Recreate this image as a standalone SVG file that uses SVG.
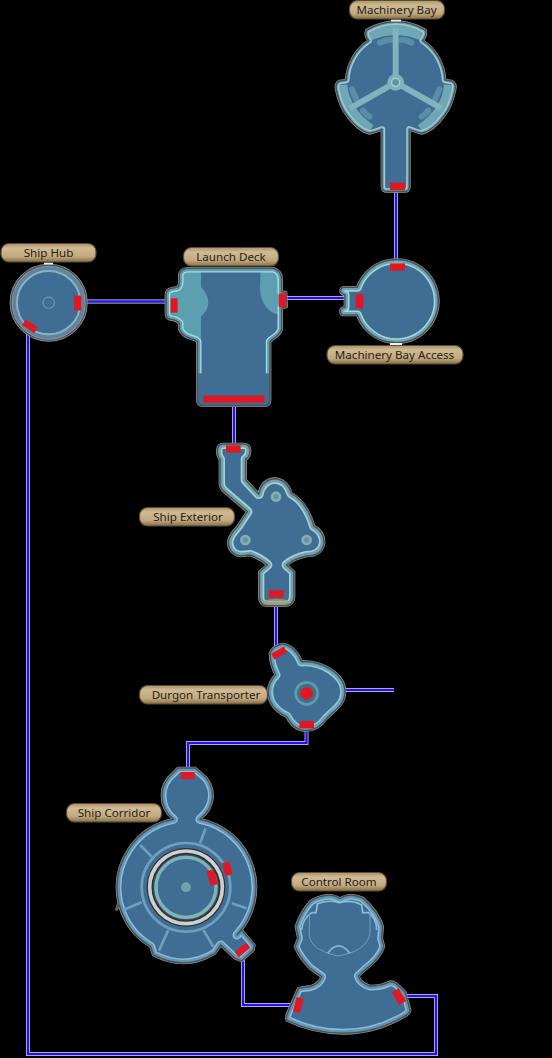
<svg xmlns="http://www.w3.org/2000/svg" width="552" height="1058" viewBox="0 0 552 1058">
<style>
text{font-family:"Noto Sans","Open Sans","Liberation Sans",sans-serif;font-size:11.6px;fill:#26221a;text-anchor:middle}
.pill{fill:url(#tan);stroke:#5d4c30;stroke-width:1.2}
.halo{fill:#3f6d94;stroke:#989c9e;stroke-width:8;stroke-linejoin:round}
.r2{fill:none;stroke:#a6d6dc;stroke-width:27;stroke-linejoin:round}
.r1{fill:none;stroke:#6aa6b8;stroke-width:18;stroke-linejoin:round}
.edge{fill:none;stroke:#4c5053;stroke-width:4.5;stroke-linejoin:round}
.blue .r2{stroke:#8ebdd6}.blue .r1{stroke:#5f95b8}
.thin .r2{stroke-width:19;stroke:#a3cbd2}.thin .r1{stroke-width:11}
.red{fill:#e01822}
.cw{fill:none;stroke:#d8d8f4;stroke-width:3.8}
.cb{fill:none;stroke:#2a0fe0;stroke-width:2.4}
.div{fill:none;stroke:#6ea0bd;stroke-width:8}
.tick{fill:#eeeeee}
</style>
<defs>
<linearGradient id="tan" x1="0" y1="0" x2="0" y2="1"><stop offset="0" stop-color="#a8946c"/><stop offset=".25" stop-color="#d0ba92"/><stop offset=".7" stop-color="#c2a97e"/><stop offset="1" stop-color="#857048"/></linearGradient>
<path id="pMB" d="M140 90Q228 40 316 90Q322 105 308 122A150 150 0 0 1 375 240L395 243Q410 250 405 270Q395 320 370 350Q340 392 305 400Q285 395 268 388L268 560Q268 574 254 574L200 574Q186 574 186 560L186 388Q169 395 149 400Q114 392 84 350Q59 320 49 270Q44 250 59 243L79 240A150 150 0 0 1 146 122Q132 105 140 90Z"/>
<clipPath id="cMB"><use href="#pMB"/></clipPath>
<path id="pLD" d="M560 85L820 85Q845 92 845 120L845 155L858 157L860 200L845 205L845 268Q840 285 815 300L810 305L810 480Q810 497 795 497L610 497Q592 497 592 480L592 305L585 300Q545 290 538 268L538 250Q530 240 510 238Q498 235 498 220L498 165Q498 148 515 145L530 142Q538 140 538 125L538 105Q540 88 560 85Z"/>
<clipPath id="cLD"><use href="#pLD"/></clipPath>
<path id="pAC" d="M112 112L72 112Q60 114 62 125Q65 133 75 135L75 172Q60 175 62 185Q62 195 75 195L112 195A125 125 0 1 0 112 112Z"/>
<clipPath id="cAC"><use href="#pAC"/></clipPath>
<path id="pSE" d="M262 62Q262 42 282 42L340 42Q360 42 360 62Q360 80 347 88L347 150L386 192Q395 150 432 146Q470 146 484 190Q530 215 552 288Q584 305 582 340Q575 378 530 378Q495 385 470 405L492 425L492 500Q490 527 465 527L415 527Q388 527 388 500L388 425L412 405Q390 385 360 375L330 378Q295 370 295 335Q298 315 322 290L352 245L282 185Q270 175 270 160L270 88Q262 80 262 62Z"/>
<clipPath id="cSE"><use href="#pSE"/></clipPath>
<path id="pDT" d="M420 130Q430 105 460 102Q495 108 515 155C570 150 645 190 645 245C645 285 610 305 590 325Q565 362 525 362Q490 360 470 320C430 300 415 275 415 245C415 225 425 205 437 195Q420 160 420 130Z"/>
<clipPath id="cDT"><use href="#pDT"/></clipPath>
<path id="pSC" d="M354 -66L405 -66L423 -51C445 -35 458 -10 458 20Q455 60 420 88A208 208 0 0 1 531 435L545 420L583 465L580 480L545 513L525 505L482 465L465 490Q375 545 280 495L272 470A208 208 0 0 1 178 345L170 358L176 338A209 209 0 0 1 340 88Q305 60 306 15C306 -10 320 -35 339 -51Z"/>
<clipPath id="cSC"><use href="#pSC"/></clipPath>
<path id="pCR" d="M240 95Q262 78 300 75Q318 78 330 85Q342 78 360 75Q385 78 400 85Q445 125 458 170L455 205L462 230Q450 265 410 295L385 318Q392 340 420 348Q455 348 480 335Q490 335 498 340L525 365L540 420Q540 428 530 435Q440 490 340 490Q250 490 172 452Q166 445 172 430L205 355Q225 350 240 350Q270 340 275 320L240 295Q210 265 195 230L205 205L198 170Q210 130 240 95Z"/>
<clipPath id="cCR"><use href="#pCR"/></clipPath>
<path id="l1" d="M396 188V264"/>
<path id="l2" d="M85 301.500H168"/>
<path id="l3" d="M284 298H346"/>
<path id="l4" d="M234 403V447"/>
<path id="l5" d="M276 602V650"/>
<path id="l6" d="M343 690H394"/>
<path id="l7" d="M306.500 728V743H188V771"/>
<path id="l8" d="M243 957V1005H293"/>
<path id="l9" d="M404 996H436V1054H28V333"/>
</defs>
<rect width="552" height="1058" fill="#000"/>
<g id="connectors">
<use href="#l1" class="cw"/><use href="#l1" class="cb"/>
<use href="#l2" class="cw"/><use href="#l2" class="cb"/>
<use href="#l3" class="cw"/><use href="#l3" class="cb"/>
<use href="#l4" class="cw"/><use href="#l4" class="cb"/>
<use href="#l5" class="cw"/><use href="#l5" class="cb"/>
<use href="#l6" class="cw"/><use href="#l6" class="cb"/>
<use href="#l7" class="cw"/><use href="#l7" class="cb"/>
<use href="#l8" class="cw"/><use href="#l8" class="cb"/>
<use href="#l9" class="cw"/><use href="#l9" class="cb"/>
</g>
<g id="machinery-bay">
<g transform="translate(320 0) scale(.33333)" class="thin">
<use href="#pMB" class="halo"/>
<g clip-path="url(#cMB)">
<g fill="none" stroke="#6fa7b6" stroke-width="40"><path d="M140 105Q227 65 315 105"/><path d="M392 255Q386 335 305 392"/><path d="M62 255Q68 335 149 392"/></g>
<g fill="none" stroke="#5a8ea8" stroke-width="18" stroke-linecap="round"><path d="M180 128Q200 118 212 120"/><path d="M245 120Q258 118 274 128"/><path d="M358 268Q352 285 345 298"/><path d="M325 332Q315 345 305 350"/><path d="M96 268Q102 285 109 298"/><path d="M129 332Q139 345 149 350"/></g>
<use href="#pMB" class="r2"/><use href="#pMB" class="r1"/>
</g>
<g fill="none" stroke="#7fb3bd" stroke-width="18"><path d="M227 247V85"/><path d="M227 247L365 325"/><path d="M227 247L90 325"/></g>
<circle cx="227" cy="247" r="25" fill="#7fb3bd"/><circle cx="227" cy="247" r="12" fill="#5f93a8" stroke="#a5d0d5" stroke-width="4"/>
<use href="#pMB" class="edge"/>
<rect class="red" x="210" y="548" width="45" height="22"/>
</g>
<rect class="tick" x="391" y="19.500" width="10" height="2"/>
<rect class="pill" x="349.500" y=".5" width="95" height="18.500" rx="8"/>
<text x="396.500" y="14">Machinery Bay</text>
</g>
<g id="machinery-bay-access">
<g transform="translate(320 250) scale(.33333)">
<use href="#pAC" class="halo"/>
<g clip-path="url(#cAC)"><use href="#pAC" class="r2"/><use href="#pAC" class="r1"/></g>
<use href="#pAC" class="edge"/>
<rect class="red" x="210" y="40" width="45" height="22"/>
<rect class="red" x="107" y="132" width="23" height="43"/>
</g>
<rect class="tick" x="390" y="343" width="12" height="2"/>
<rect class="pill" x="327" y="345.500" width="136" height="18.500" rx="8"/>
<text x="394.500" y="359">Machinery Bay Access</text>
</g>
<g id="ship-hub">
<g transform="translate(0 240) scale(.33333)">
<circle cx="146" cy="188" r="113" fill="#5f84a0" stroke="#9aa0a4" stroke-width="8"/>
<circle cx="146" cy="188" r="113" fill="none" stroke="#4e5256" stroke-width="4"/>
<circle cx="146" cy="188" r="95" fill="#3f6d94" stroke="#8eb0c6" stroke-width="6"/>
<circle cx="146" cy="188" r="17" fill="none" stroke="#7ea2b8" stroke-width="3"/>
<rect class="red" x="222" y="167" width="22" height="44"/>
<rect class="red" x="68" y="249" width="44" height="20" transform="rotate(35 90 259)"/>
</g>
<rect class="tick" x="44" y="262.500" width="9" height="2"/>
<rect class="pill" x="1" y="243.500" width="95" height="18.500" rx="8"/>
<text x="48.500" y="257">Ship Hub</text>
</g>
<g id="launch-deck">
<g transform="translate(0 240) scale(.33333)">
<use href="#pLD" class="halo"/>
<g clip-path="url(#cLD)">
<path d="M490 80L603 80L603 140Q625 165 625 185Q625 210 603 230L603 310L490 310Z" fill="#5c9fb0"/>
<path d="M782 90L860 90L860 225L826 222Q780 200 780 140Z" fill="#5c9fb0"/>
<use href="#pLD" style="fill:none;stroke:#a6dde2;stroke-width:25;stroke-linejoin:round"/>
<use href="#pLD" style="fill:none;stroke:#5c9fb0;stroke-width:17;stroke-linejoin:round"/>
<rect x="585" y="400" width="235" height="100" fill="#3f6d94"/>
</g>
<use href="#pLD" class="edge"/>
<rect class="red" x="512" y="175" width="21" height="43"/>
<rect class="red" x="837" y="160" width="21" height="42"/>
<rect class="red" x="610" y="467" width="183" height="21"/>
</g>
<rect class="pill" x="183.500" y="247.500" width="95" height="18.500" rx="8"/>
<text x="231" y="261">Launch Deck</text>
</g>
<g id="ship-exterior">
<g transform="translate(130 430) scale(.33333)">
<use href="#pSE" class="halo"/>
<g clip-path="url(#cSE)"><use href="#pSE" style="fill:none;stroke:#a9cfd0;stroke-width:30;stroke-linejoin:round"/><use href="#pSE" style="fill:none;stroke:#6ba2b0;stroke-width:20;stroke-linejoin:round"/>
<ellipse cx="440" cy="522" rx="45" ry="16" fill="#a89f70" opacity=".7"/></g>
<use href="#pSE" class="edge"/>
<g fill="#86aeb2"><circle cx="438" cy="200" r="16"/><circle cx="346" cy="330" r="16"/><circle cx="530" cy="330" r="16"/></g>
<g fill="#6596a4"><circle cx="438" cy="200" r="8"/><circle cx="346" cy="330" r="8"/><circle cx="530" cy="330" r="8"/></g>
<rect class="red" x="288" y="46" width="44" height="22"/>
<rect class="red" x="417" y="481" width="44" height="22"/>
</g>
<rect class="pill" x="139.500" y="507.500" width="95" height="18.500" rx="8"/>
<text x="188" y="521">Ship Exterior</text>
</g>
<g id="durgon-transporter">
<g transform="translate(130 610) scale(.33333)">
<use href="#pDT" class="halo"/>
<g clip-path="url(#cDT)"><use href="#pDT" style="fill:none;stroke:#8fc6d8;stroke-width:29;stroke-linejoin:round"/><use href="#pDT" style="fill:none;stroke:#63a2b8;stroke-width:19;stroke-linejoin:round"/></g>
<use href="#pDT" class="edge"/>
<circle cx="530" cy="250" r="33" fill="#3f6d94" stroke="#5b9eaa" stroke-width="8"/>
<circle cx="530" cy="250" r="19" class="red"/>
<rect class="red" x="425" y="119" width="44" height="20" transform="rotate(-30 447 129)"/>
<rect class="red" x="508" y="333" width="44" height="22"/>
</g>
<rect class="pill" x="139.500" y="685.500" width="128" height="18.500" rx="8"/>
<text x="206" y="699">Durgon Transporter</text>
</g>
<g id="ship-corridor">
<g transform="translate(60 790) scale(.33333)" class="blue">
<use href="#pSC" class="halo"/>
<g clip-path="url(#cSC)"><use href="#pSC" class="r2"/><use href="#pSC" class="r1"/></g>
<use href="#pSC" class="edge"/>
<g class="div"><path d="M437 115L420 160"/><path d="M240 165L275 200"/><path d="M190 360L245 337"/><path d="M515 340L560 355"/><path d="M325 420L297 482"/><path d="M430 420L460 470"/></g>
<circle cx="378" cy="292" r="133" fill="none" stroke="#6ea0bd" stroke-width="8"/>
<circle cx="378" cy="292" r="118" fill="#2c2e30"/>
<circle cx="378" cy="292" r="109" fill="none" stroke="#cfcfcf" stroke-width="11"/>
<circle cx="378" cy="292" r="98" fill="#3f6d94" stroke="#3c4a50" stroke-width="3"/>
<circle cx="378" cy="292" r="90" fill="none" stroke="#7fb5b8" stroke-width="10"/>
<circle cx="378" cy="292" r="15" fill="#6fa3a8"/>
<rect class="red" x="491" y="216" width="22" height="40" transform="rotate(-15 502 236)"/>
<rect class="red" x="446" y="240" width="22" height="46" transform="rotate(-15 457 263)"/>
<rect class="red" x="525" y="470" width="44" height="20" transform="rotate(-40 547 480)"/>
<rect class="red" x="362" y="-54" width="42" height="21"/>
</g>
<rect class="pill" x="66.500" y="803.500" width="95" height="18.500" rx="8"/>
<text x="114" y="817">Ship Corridor</text>
</g>
<g id="control-room">
<g transform="translate(230 870) scale(.33333)" class="blue">
<use href="#pCR" class="halo"/>
<g clip-path="url(#cCR)"><use href="#pCR" class="r2"/><use href="#pCR" class="r1"/></g>
<path d="M215 180Q218 145 245 128L258 128L262 102Q290 88 328 98Q365 88 395 105L398 128L415 128Q440 145 440 180" fill="none" stroke="#8ebdd6" stroke-width="5"/>
<use href="#pCR" class="edge"/>
<path d="M238 130L238 200Q245 240 322 258Q410 245 420 190L420 120" fill="none" stroke="#6f9fb8" stroke-width="3"/>
<path d="M293 250Q325 205 360 250" fill="none" stroke="#8ab4c8" stroke-width="5"/>
<rect class="red" x="194" y="383" width="22" height="44" transform="rotate(15 205 405)"/>
<rect class="red" x="495" y="358" width="24" height="44" transform="rotate(-30 507 380)"/>
</g>
<rect class="pill" x="291.500" y="872.500" width="95" height="18.500" rx="8"/>
<text x="339" y="886">Control Room</text>
</g>
</svg>
